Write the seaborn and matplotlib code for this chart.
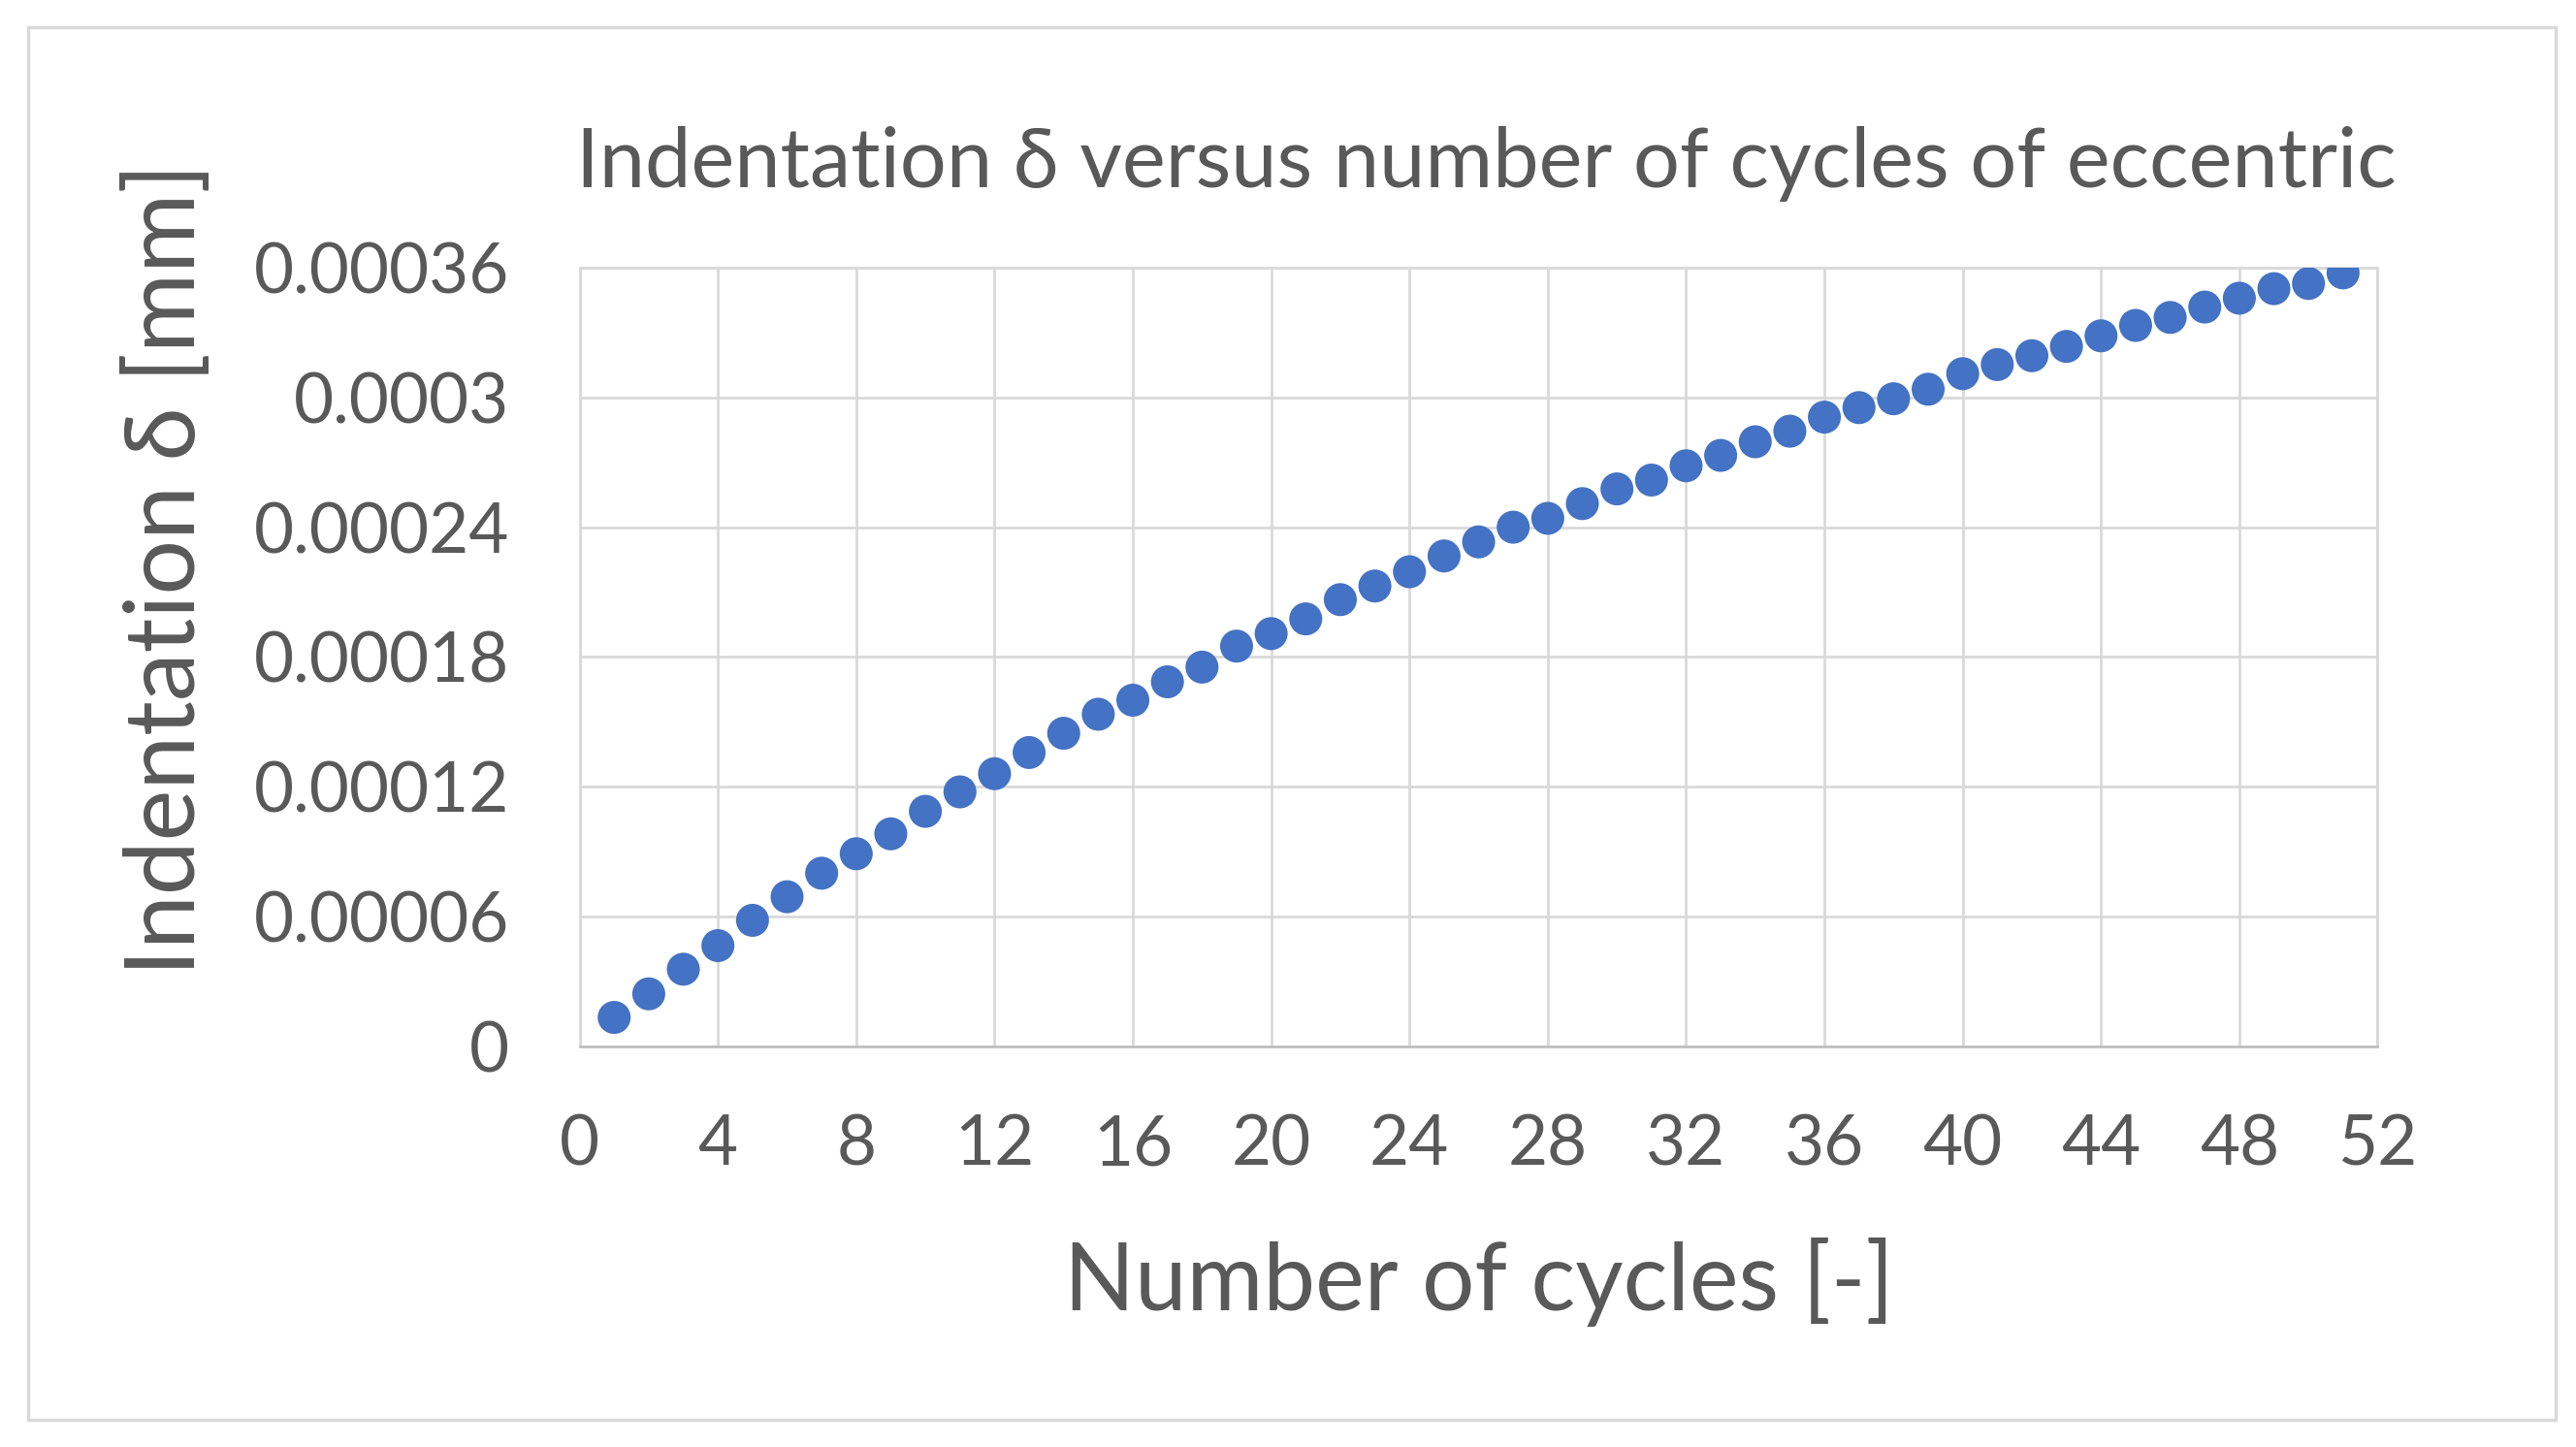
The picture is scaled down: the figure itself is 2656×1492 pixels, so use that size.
import numpy as np
import pandas as pd
import seaborn as sns
import matplotlib.pyplot as plt
from matplotlib.patches import Rectangle

# ========== DATA ==========
cycles = list(range(1, 52))
indentation = [
    0.0000133, 0.0000242, 0.0000356, 0.0000465, 0.0000582, 0.0000691, 0.0000800,
    0.0000890, 0.0000982, 0.0001086, 0.0001176, 0.0001260, 0.0001358, 0.0001447,
    0.0001535, 0.0001600, 0.0001685, 0.0001753, 0.0001850, 0.0001908, 0.0001976,
    0.0002065, 0.0002128, 0.0002194, 0.0002267, 0.0002332, 0.0002400, 0.0002441,
    0.0002509, 0.0002577, 0.0002618, 0.0002684, 0.0002732, 0.0002795, 0.0002844,
    0.0002909, 0.0002953, 0.0002994, 0.0003038, 0.0003110, 0.0003152, 0.0003193,
    0.0003236, 0.0003285, 0.0003333, 0.0003370, 0.0003418, 0.0003459, 0.0003503,
    0.0003527, 0.0003576,
]
x_ticks = list(range(0, 53, 4))
y_ticks = [0, 0.00006, 0.00012, 0.00018, 0.00024, 0.0003, 0.00036]
y_tick_labels = ["0", "0.00006", "0.00012", "0.00018", "0.00024", "0.0003", "0.00036"]

df = pd.DataFrame({"cycles": cycles, "indentation": indentation})

# ========== STYLE ==========
sns.set_theme(style="white")
plt.rcParams['font.family'] = ['Lato', 'DejaVu Sans']
text_col = "#595959"
grid_col = "#D9D9D9"

fig = plt.figure(figsize=(26.56, 14.92), dpi=100)
ax = fig.add_axes([0.225, 0.277, 0.698, 0.538])

sns.scatterplot(data=df, x="cycles", y="indentation", ax=ax,
                color="#4472C4", s=600, edgecolor="none", zorder=3)

ax.set_xlim(0, 52)
ax.set_ylim(0, 0.00036)
ax.set_xticks(x_ticks)
ax.set_yticks(y_ticks)
ax.set_yticklabels(y_tick_labels)
ax.grid(True, color=grid_col, linewidth=2)
ax.set_axisbelow(True)
for name, sp in ax.spines.items():
    sp.set_color(grid_col)
    sp.set_linewidth(2)
ax.spines['bottom'].set_color("#BFBFBF")

ax.tick_params(axis='both', colors=text_col, labelsize=51, length=0)
ax.tick_params(axis='y', pad=52)
ax.tick_params(axis='x', pad=50)

ax.set_xlabel("Number of cycles [-]", fontsize=69, color=text_col, labelpad=45)
ax.set_ylabel("Indentation δ [mm]", fontsize=72, color=text_col)
ax.yaxis.set_label_coords(-0.205, 0.612)
fig.text(0.577, 0.887, "Indentation δ versus number of cycles of eccentric",
         fontsize=61, color=text_col, ha="center", va="center")

# outer chart border
fig.patches.append(Rectangle((0.011, 0.019), 0.981, 0.962, transform=fig.transFigure,
                             fill=False, edgecolor=grid_col, linewidth=2.5))

fig.savefig("out.png", dpi=100, facecolor="white")
